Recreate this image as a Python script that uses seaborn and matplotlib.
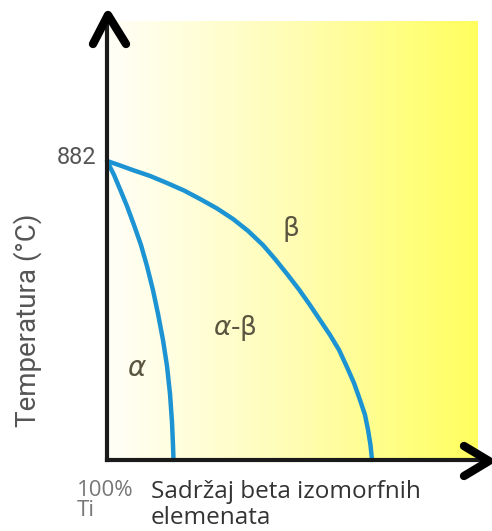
"""
Ti - beta izomorfni fazni dijagram (shematski).
"""

import numpy as np
import matplotlib
matplotlib.use("Agg")
import matplotlib.pyplot as plt
import pandas as pd
import seaborn as sns


# ---- data ----
T_TRANSUS = 882

alpha_x = [0.0, 1.83, 3.39, 5.22, 7.05, 8.88, 10.44, 12.01, 13.32, 14.62,
           15.67, 16.45, 16.97, 17.23, 17.36]
alpha_t = [882, 841, 799, 749, 693, 634, 572, 501, 431, 354,
           277, 195, 112, 44, 0]

beta_x = [0.0, 3.39, 6.79, 11.23, 15.67, 20.10, 24.28, 28.72, 32.90, 36.81,
          40.73, 43.86, 46.99, 50.13, 53.00, 55.61, 58.22, 60.57, 62.66,
          64.49, 66.06, 67.36, 68.15, 68.80, 69.19]
beta_t = [882, 869, 855, 838, 817, 795, 770, 742, 711, 676,
          634, 593, 549, 503, 457, 413, 369, 325, 274,
          227, 177, 133, 89, 44, 0]

phase_labels = ["β", r"$\alpha$-β", r"$\alpha$"]
phase_x = [48.0, 33.5, 7.8]
phase_t = [682, 390, 272]
phase_size = [19, 19, 20]

x_label = "Sadržaj beta izomorfnih\nelemenata"
x_origin_label = "100%\nTi"
y_label = "Temperatura (°C)"

# ---- pixel <-> data mapping of the reference layout ----
W, H = 492, 531
X0_PX, Y0_PX = 107, 460
PX_PER_X = 3.83
T_PER_PX = T_TRANSUS / (Y0_PX - 161)


def px_x(px):
    return (px - X0_PX) / PX_PER_X


def px_t(py):
    return (Y0_PX - py) * T_PER_PX


sns.set_theme(style="white")

fig = plt.figure(figsize=(W / 100, H / 100), dpi=100)
ax = fig.add_axes([0, 0, 1, 1])
ax.set_xlim(px_x(0), px_x(W))
ax.set_ylim(px_t(H), px_t(0))
ax.axis("off")

# yellow gradient background
grad = np.linspace(0, 1, 256).reshape(1, -1)
cmap = matplotlib.colors.LinearSegmentedColormap.from_list(
    "yel", ["#FFFFF8", "#FFFDB4", "#FFFF5E"]
)
ax.imshow(
    grad,
    cmap=cmap,
    aspect="auto",
    extent=[0, px_x(478), 0, px_t(22)],
    zorder=0,
)

# phase boundaries
curves = pd.concat([
    pd.DataFrame({"x": alpha_x, "t": alpha_t, "c": "alpha"}),
    pd.DataFrame({"x": beta_x, "t": beta_t, "c": "beta"}),
])
sns.lineplot(
    data=curves, x="x", y="t", units="c", estimator=None, sort=False,
    color="#1C93D2", linewidth=3.2, ax=ax, zorder=3,
)
for line in ax.lines:
    line.set_solid_joinstyle("round")

# axes with arrows
axis_col = "#1A1A1A"
ax.plot([0, 0], [0, px_t(17)], color=axis_col, lw=3.0, zorder=4,
        solid_capstyle="projecting")
ax.plot([0, px_x(488)], [0, 0], color=axis_col, lw=3.0, zorder=4,
        solid_capstyle="projecting")
ax.plot([px_x(93), px_x(108), px_x(126)], [px_t(44), px_t(15), px_t(44)],
        color="black", lw=6, solid_capstyle="round",
        solid_joinstyle="round", zorder=5)
ax.plot([px_x(464), px_x(489), px_x(464)], [px_t(446), px_t(461), px_t(476)],
        color="black", lw=6, solid_capstyle="round",
        solid_joinstyle="round", zorder=5)

# texts
ax.text(px_x(96), px_t(158), str(T_TRANSUS), ha="right", va="center",
        fontsize=17, color="#555555", family="Roboto")
ax.text(px_x(28), px_t(320), y_label, rotation=90, ha="center",
        va="center", fontsize=20, color="#555555", family="Roboto")
for lab, lx, lt, fs in zip(phase_labels, phase_x, phase_t, phase_size):
    ax.text(lx, lt, lab, ha="center", va="center", fontsize=fs,
            color="#5A5540", family="DejaVu Sans")
ax.text(px_x(77), px_t(480), x_origin_label, ha="left", va="top",
        fontsize=16, color="#777777", family="Open Sans",
        linespacing=0.95)
ax.text(px_x(151), px_t(480), x_label, ha="left", va="top",
        fontsize=17.5, color="#333333", family="Open Sans",
        linespacing=1.1)

fig.savefig("out.png", dpi=100)
